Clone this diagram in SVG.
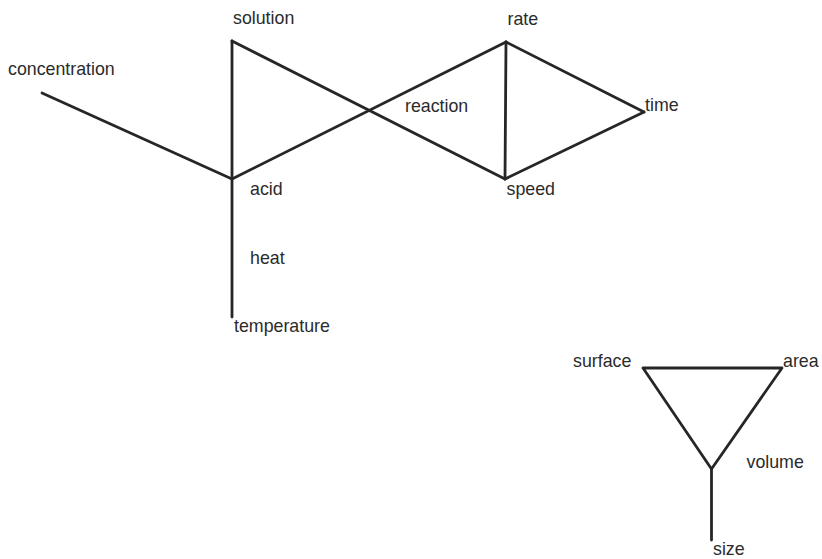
<svg xmlns="http://www.w3.org/2000/svg" width="822" height="559" viewBox="0 0 822 559">
  <style>
    .edge { stroke: #262626; stroke-width: 2.8; stroke-linecap: round; stroke-linejoin: round; fill: none; }
    .lbl { font-family: "Liberation Sans", Arial, Helvetica, sans-serif; font-size: 17.8px; fill: #2b2b2b; }
  </style>
  <rect width="822" height="559" fill="#ffffff"/>
  <g id="connectors">
    <line class="edge" x1="42" y1="93" x2="232" y2="179"/>
    <line class="edge" x1="232" y1="41" x2="232" y2="317"/>
    <line class="edge" x1="232" y1="41" x2="505" y2="179"/>
    <line class="edge" x1="232" y1="179" x2="506" y2="42"/>
    <line class="edge" x1="506" y1="42" x2="505" y2="179"/>
    <line class="edge" x1="506" y1="42" x2="644" y2="112"/>
    <line class="edge" x1="505" y1="179" x2="644" y2="112"/>
    <polygon class="edge" points="643,368 782,368 711.5,469"/>
    <line class="edge" x1="711.5" y1="469" x2="711.5" y2="540"/>
  </g>
  <g id="concentration"><text class="lbl" x="8" y="75">concentration</text></g>
  <g id="solution"><text class="lbl" x="233" y="23.5">solution</text></g>
  <g id="acid"><text class="lbl" x="250" y="194.5">acid</text></g>
  <g id="heat"><text class="lbl" x="250" y="264">heat</text></g>
  <g id="temperature"><text class="lbl" x="234" y="331.5">temperature</text></g>
  <g id="reaction"><text class="lbl" x="405" y="111.5">reaction</text></g>
  <g id="rate"><text class="lbl" x="507.5" y="24.5">rate</text></g>
  <g id="speed"><text class="lbl" x="506.5" y="194.5">speed</text></g>
  <g id="time"><text class="lbl" x="645" y="111">time</text></g>
  <g id="surface"><text class="lbl" x="573" y="366.5">surface</text></g>
  <g id="area"><text class="lbl" x="783" y="366.5">area</text></g>
  <g id="volume"><text class="lbl" x="746.5" y="468">volume</text></g>
  <g id="size"><text class="lbl" x="713" y="555">size</text></g>
</svg>
